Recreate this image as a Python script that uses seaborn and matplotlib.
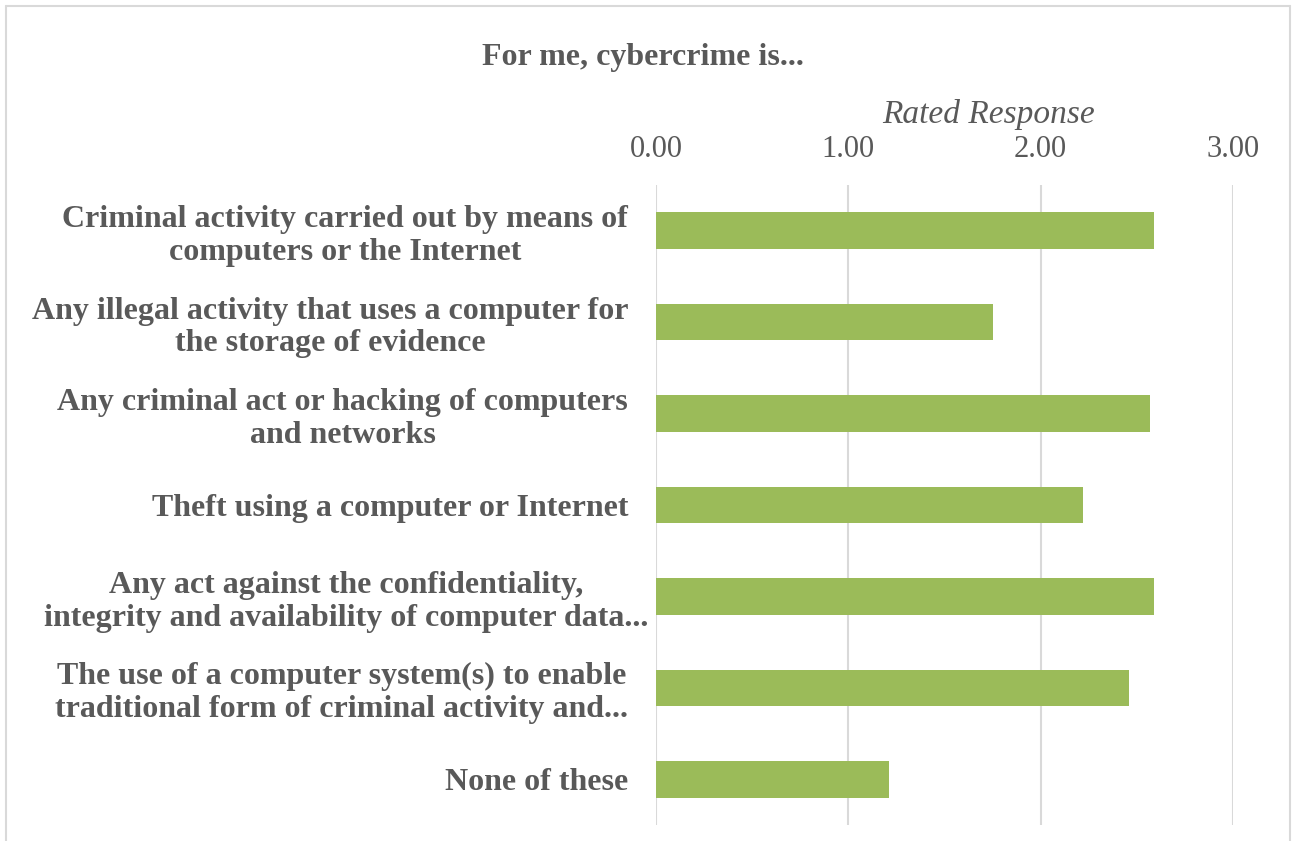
import matplotlib
matplotlib.use("Agg")
import matplotlib.pyplot as plt
import matplotlib.transforms as mtransforms
import seaborn as sns
import pandas as pd
from matplotlib.lines import Line2D

categories = [
    "Criminal activity carried out by means of\ncomputers or the Internet",
    "Any illegal activity that uses a computer for\nthe storage of evidence",
    "Any criminal act or hacking of computers\nand networks",
    "Theft using a computer or Internet",
    "Any act against the confidentiality,\nintegrity and availability of computer data...",
    "The use of a computer system(s) to enable\ntraditional form of criminal activity and...",
    "None of these",
]
ratings = [2.59, 1.75, 2.57, 2.22, 2.59, 2.46, 1.21]
tick_values = [0, 1, 2, 3]
tick_labels = ["0.00", "1.00", "2.00", "3.00"]

title = "For me, cybercrime is..."
axis_title = "Rated Response"

BAR = "#9BBB59"
GRID = "#D9D9D9"
TEXT = "#595959"

sns.set_theme(style="white")
plt.rcParams["font.family"] = ["Liberation Serif", "DejaVu Serif"]

df = pd.DataFrame({"category": categories, "rating": ratings})

fig = plt.figure(figsize=(12.92, 8.41), dpi=100)
ax = fig.add_axes([656 / 1292, 1 - 825 / 841, 577 / 1292, 640 / 841])

sns.barplot(data=df, x="rating", y="category", orient="h", color=BAR,
            width=0.4, saturation=1, ax=ax, edgecolor="none")

ax.set_xlim(0, 3)
ax.set_ylim(6.5, -0.5)
ax.set_xticks(tick_values)
ax.set_xticklabels(tick_labels)
ax.xaxis.tick_top()
ax.tick_params(axis="x", length=0, pad=15, labelsize=22, labelcolor=TEXT)
ax.tick_params(axis="y", length=0, pad=20, labelcolor=TEXT)
for lbl in ax.get_yticklabels():
    lbl.set_fontsize(23)
    lbl.set_fontweight("bold")
    lbl.set_multialignment("center")
    lbl.set_linespacing(1.17)

# the long truncated label runs a little past the others toward the plot
long_lbl = ax.get_yticklabels()[4]
long_lbl.set_transform(long_lbl.get_transform()
                       + mtransforms.ScaledTranslation(0.2, 0, fig.dpi_scale_trans))

ax.grid(axis="x", color=GRID, linewidth=1.5)
ax.set_axisbelow(True)
for s in ax.spines.values():
    s.set_visible(False)
ax.set_xlabel("")
ax.set_ylabel("")

fig.text(989 / 1292, 1 - 115 / 841, axis_title, ha="center", va="center",
         fontsize=24, style="italic", color=TEXT)
fig.text(643 / 1292, 1 - 57 / 841, title, ha="center", va="center",
         fontsize=23, fontweight="bold", color=TEXT)

# chart frame (left, top, right edges)
frame_kw = dict(color=GRID, linewidth=1.5, transform=fig.transFigure)
fig.add_artist(Line2D([6 / 1292, 6 / 1292], [0, 1 - 6 / 841], **frame_kw))
fig.add_artist(Line2D([6 / 1292, 1290 / 1292], [1 - 6 / 841, 1 - 6 / 841], **frame_kw))
fig.add_artist(Line2D([1290 / 1292, 1290 / 1292], [0, 1 - 6 / 841], **frame_kw))

fig.savefig("out.png", dpi=100, facecolor="white")
